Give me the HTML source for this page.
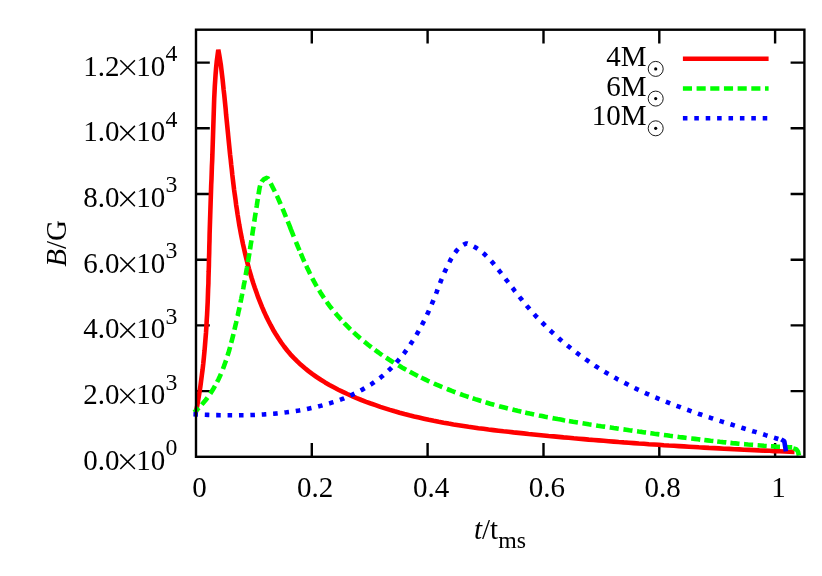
<!DOCTYPE html>
<html><head><meta charset="utf-8"><title>B/G vs t/tms</title>
<style>
html,body{margin:0;padding:0;background:#fff;}
svg{display:block;will-change:transform}
text{font-family:"Liberation Serif",serif;font-size:29px;fill:#000}
</style></head>
<body>
<svg width="822" height="576" viewBox="0 0 822 576">
<rect x="0" y="0" width="822" height="576" fill="#fff"/>
<!-- ticks -->
<path fill="none" stroke="#000" stroke-width="2.4" d="M311.8,456.8 V443.0 M311.8,29.7 V43.5 M427.6,456.8 V443.0 M427.6,29.7 V43.5 M543.5,456.8 V443.0 M543.5,29.7 V43.5 M659.3,456.8 V443.0 M659.3,29.7 V43.5 M775.1,456.8 V443.0 M775.1,29.7 V43.5 M196.0,391.1 H209.8 M804.4,391.1 H790.6 M196.0,325.4 H209.8 M804.4,325.4 H790.6 M196.0,259.7 H209.8 M804.4,259.7 H790.6 M196.0,194.0 H209.8 M804.4,194.0 H790.6 M196.0,128.3 H209.8 M804.4,128.3 H790.6 M196.0,62.6 H209.8 M804.4,62.6 H790.6"/>
<!-- curves -->
<g fill="none" stroke-width="4.6" stroke-linejoin="bevel" stroke-linecap="butt">
<path id="red" stroke="#ff0000" d="M196.0,412.0 L197.2,405.9 L198.2,399.9 L199.2,393.8 L200.2,387.7 L201.0,381.6 L201.8,375.5 L202.6,369.4 L203.3,363.3 L203.9,357.2 L204.5,351.1 L205.0,345.0 L205.5,338.8 L206.0,332.7 L206.4,326.6 L206.7,320.4 L207.1,314.3 L207.4,308.1 L207.7,302.0 L207.9,295.8 L208.1,289.7 L208.4,283.5 L208.5,277.3 L208.7,271.2 L208.9,265.0 L209.0,258.8 L209.2,252.7 L209.3,246.5 L209.5,240.4 L209.6,234.2 L209.8,228.0 L210.0,221.9 L210.2,215.7 L210.4,209.5 L210.6,203.4 L210.8,197.2 L211.0,191.1 L211.2,184.9 L211.5,178.8 L211.7,172.6 L211.9,166.5 L212.2,160.3 L212.4,154.2 L212.6,148.0 L212.8,141.9 L213.0,135.7 L213.2,129.5 L213.4,123.4 L213.6,117.2 L213.8,111.1 L214.0,104.9 L214.2,98.7 L214.5,92.6 L214.8,86.4 L215.2,80.3 L215.6,74.2 L216.1,68.0 L216.7,61.9 L217.5,55.8 L218.3,49.7 L219.2,54.6 L220.0,59.6 L220.8,64.6 L221.4,69.6 L222.0,74.6 L222.6,79.6 L223.1,84.6 L223.6,89.6 L224.2,94.6 L224.7,99.6 L225.2,104.6 L225.7,109.6 L226.1,114.6 L226.6,119.6 L227.1,124.6 L227.6,129.6 L228.1,134.6 L228.6,139.7 L229.1,144.7 L229.6,149.7 L230.1,154.7 L230.7,159.7 L231.2,164.7 L231.8,169.7 L232.3,174.7 L232.9,179.7 L233.5,184.7 L234.1,189.7 L234.8,194.7 L235.5,199.6 L236.1,204.6 L236.9,209.6 L237.6,214.5 L238.4,219.5 L239.2,224.5 L240.1,229.4 L241.0,234.3 L242.0,239.3 L243.0,244.2 L244.1,249.1 L245.2,254.0 L246.4,258.9 L247.6,263.7 L248.9,268.6 L250.3,273.4 L251.7,278.2 L253.2,283.0 L254.8,287.8 L256.5,292.6 L258.2,297.4 L260.1,302.1 L262.0,306.8 L264.0,311.5 L266.1,316.1 L268.4,320.7 L270.7,325.2 L273.1,329.7 L275.7,334.0 L278.4,338.3 L281.2,342.5 L284.1,346.5 L287.2,350.5 L290.4,354.3 L293.8,357.9 L297.3,361.4 L300.9,364.8 L304.7,368.0 L308.5,371.1 L312.5,374.1 L316.6,377.0 L320.8,379.7 L325.1,382.4 L329.4,384.9 L333.8,387.3 L338.3,389.7 L342.9,391.9 L347.4,394.0 L352.1,396.1 L356.7,398.1 L361.4,400.0 L366.1,401.8 L370.8,403.5 L375.6,405.2 L380.3,406.9 L385.1,408.4 L389.9,409.9 L394.7,411.3 L399.6,412.7 L404.4,414.0 L409.3,415.3 L414.1,416.5 L419.0,417.6 L423.9,418.7 L428.8,419.8 L433.7,420.8 L438.7,421.8 L443.6,422.7 L448.6,423.6 L453.5,424.4 L458.5,425.2 L463.5,426.0 L468.5,426.8 L473.5,427.5 L478.4,428.2 L483.4,428.8 L488.5,429.5 L493.5,430.1 L498.5,430.7 L503.5,431.3 L508.5,431.8 L513.5,432.4 L518.5,432.9 L523.5,433.4 L528.6,434.0 L533.6,434.5 L538.6,435.0 L543.6,435.5 L548.6,436.0 L553.6,436.4 L558.6,436.9 L563.6,437.4 L568.7,437.8 L573.7,438.3 L578.7,438.7 L583.7,439.1 L588.7,439.6 L593.7,440.0 L598.7,440.4 L603.7,440.8 L608.7,441.2 L613.7,441.6 L618.7,442.0 L623.8,442.4 L628.8,442.7 L633.8,443.1 L638.8,443.5 L643.8,443.8 L648.8,444.2 L653.8,444.5 L658.8,444.8 L663.8,445.2 L668.8,445.5 L673.9,445.8 L678.9,446.1 L683.9,446.4 L688.9,446.7 L693.9,447.0 L698.9,447.3 L704.0,447.6 L709.0,447.9 L714.0,448.1 L719.0,448.4 L724.0,448.7 L729.1,448.9 L734.1,449.2 L739.1,449.4 L744.1,449.7 L749.2,449.9 L754.2,450.1 L759.2,450.4 L764.3,450.6 L769.3,450.8 L774.3,451.1 L779.4,451.3 L784.4,451.5 L789.5,451.7 L794.5,451.9"/>
<path id="green" stroke="#00ff00" stroke-dasharray="6.50 4.28 9.12 4.81 9.12 4.27 9.12 5.26 9.12 4.91 9.12 4.26 9.12 4.30 9.12 4.93 9.12 4.75 9.12 4.38 9.12 5.21 9.12 4.15 9.12 3.93 9.12 4.72 9.12 4.95 9.12 4.88 9.12 4.48 9.12 4.01 9.12 4.80 9.12 4.79 9.12 4.81 9.12 4.73 16.27 5.78 9.12 3.45 9.12 4.38 9.12 4.78 9.12 4.68 9.12 4.59 9.12 5.14 9.12 4.12 9.12 4.21 9.12 5.03 9.12 4.37 9.12 4.47 9.12 5.26 9.12 4.12 9.12 3.66 9.12 4.87 9.12 5.03 9.12 4.93 9.12 4.19 9.12 4.42 9.12 4.92 9.12 4.68 9.12 4.02 9.12 4.84 9.12 4.81 12.80 3.86 9.12 4.66 9.12 4.64 9.12 4.63 9.12 4.72 9.12 4.61 9.12 4.31 9.12 4.60 9.12 4.60 9.12 4.69 9.12 4.07 9.12 3.86 9.12 4.15 9.12 4.54 9.12 4.53 9.12 4.21 9.12 4.20 9.12 1000.00" d="M194.3,412.4 L196.0,410.5 L198.6,408.0 L201.1,405.4 L203.4,402.7 L205.7,400.0 L207.8,397.2 L209.8,394.4 L211.7,391.5 L213.5,388.5 L215.2,385.5 L216.9,382.5 L218.4,379.4 L219.9,376.2 L221.3,373.1 L222.6,369.8 L223.8,366.6 L225.0,363.3 L226.2,360.0 L227.2,356.7 L228.3,353.3 L229.3,350.0 L230.2,346.6 L231.1,343.2 L232.0,339.8 L232.9,336.4 L233.7,332.9 L234.5,329.5 L235.3,326.1 L236.1,322.7 L236.9,319.2 L237.7,315.8 L238.4,312.3 L239.2,308.9 L239.9,305.5 L240.6,302.0 L241.3,298.6 L242.0,295.1 L242.6,291.7 L243.3,288.2 L243.9,284.8 L244.6,281.4 L245.2,277.9 L245.8,274.5 L246.4,271.0 L247.0,267.6 L247.6,264.1 L248.2,260.7 L248.7,257.3 L249.3,253.8 L249.8,250.4 L250.4,247.0 L250.9,243.5 L251.5,240.1 L252.0,236.7 L252.5,233.2 L253.0,229.8 L253.6,226.3 L254.1,222.9 L254.6,219.4 L255.1,216.0 L255.7,212.5 L256.2,209.0 L256.8,205.6 L257.3,202.1 L257.9,198.5 L258.4,195.0 L259.0,191.5 L259.6,187.9 L260.4,184.5 L261.8,181.5 L264.0,179.1 L267.4,177.6 L269.0,180.3 L270.5,183.0 L271.9,185.7 L273.3,188.5 L274.7,191.3 L276.1,194.1 L277.4,196.9 L278.7,199.8 L280.0,202.7 L281.2,205.6 L282.5,208.5 L283.7,211.4 L284.9,214.3 L286.1,217.3 L287.3,220.2 L288.5,223.2 L289.7,226.1 L290.8,229.1 L292.0,232.1 L293.2,235.1 L294.4,238.0 L295.6,241.0 L296.8,244.0 L298.0,246.9 L299.3,249.9 L300.5,252.9 L301.8,255.8 L303.0,258.7 L304.3,261.6 L305.7,264.6 L307.0,267.4 L308.4,270.3 L309.8,273.2 L311.2,276.0 L312.6,278.8 L314.1,281.6 L315.6,284.3 L317.2,287.1 L318.8,289.8 L320.4,292.4 L322.1,295.1 L323.8,297.7 L325.6,300.2 L327.4,302.8 L329.2,305.3 L331.1,307.8 L333.0,310.2 L335.0,312.6 L337.0,315.0 L339.0,317.3 L341.0,319.6 L343.2,321.9 L345.3,324.2 L347.5,326.4 L349.7,328.6 L351.9,330.7 L354.2,332.9 L356.5,335.0 L358.8,337.0 L361.2,339.1 L363.6,341.1 L366.0,343.0 L368.4,345.0 L370.9,346.9 L373.4,348.8 L375.9,350.7 L378.5,352.5 L381.0,354.3 L383.6,356.1 L386.3,357.8 L388.9,359.5 L391.6,361.2 L394.2,362.9 L397.0,364.5 L399.7,366.1 L402.4,367.7 L405.2,369.3 L408.0,370.8 L410.8,372.3 L413.6,373.8 L416.4,375.2 L419.2,376.6 L422.1,378.0 L425.0,379.4 L427.8,380.8 L430.7,382.1 L433.6,383.4 L436.5,384.7 L439.5,385.9 L442.4,387.1 L445.3,388.3 L448.3,389.5 L451.2,390.7 L454.2,391.8 L457.1,392.9 L460.1,394.0 L463.1,395.1 L466.1,396.1 L469.1,397.1 L472.1,398.1 L475.1,399.1 L478.1,400.0 L481.1,401.0 L484.1,401.9 L487.1,402.8 L490.1,403.7 L493.1,404.5 L496.2,405.4 L499.2,406.2 L502.3,407.0 L505.3,407.8 L508.3,408.6 L511.4,409.3 L514.5,410.1 L517.5,410.8 L520.6,411.5 L523.6,412.2 L526.7,412.9 L529.8,413.6 L532.9,414.2 L536.0,414.9 L539.0,415.5 L542.1,416.1 L545.2,416.8 L548.3,417.3 L551.4,417.9 L554.5,418.5 L557.6,419.1 L560.7,419.6 L563.8,420.2 L566.9,420.7 L570.0,421.2 L573.1,421.8 L576.2,422.3 L579.3,422.8 L582.5,423.3 L585.6,423.8 L588.7,424.3 L591.8,424.7 L594.9,425.2 L598.0,425.7 L601.2,426.2 L604.3,426.6 L607.4,427.1 L610.5,427.5 L613.7,428.0 L616.8,428.4 L619.9,428.9 L623.0,429.3 L626.2,429.7 L629.3,430.2 L632.4,430.6 L635.5,431.1 L638.6,431.5 L641.8,431.9 L644.9,432.4 L648.0,432.8 L651.1,433.2 L654.3,433.7 L657.4,434.1 L660.5,434.5 L663.6,434.9 L666.7,435.3 L669.9,435.8 L673.0,436.2 L676.1,436.6 L679.2,437.0 L682.4,437.4 L685.5,437.8 L688.6,438.2 L691.7,438.5 L694.9,438.9 L698.0,439.3 L701.1,439.7 L704.2,440.0 L707.4,440.4 L710.5,440.8 L713.6,441.1 L716.8,441.4 L719.9,441.8 L723.0,442.1 L726.2,442.4 L729.3,442.8 L732.4,443.1 L735.6,443.4 L738.7,443.7 L741.8,444.0 L745.0,444.2 L748.1,444.5 L751.3,444.8 L754.4,445.0 L757.5,445.3 L760.7,445.5 L763.8,445.8 L767.0,446.0 L770.1,446.2 L773.3,446.4 L776.4,446.6 L779.6,446.8 L782.7,446.9 L785.9,447.1 L789.0,447.3 L792.2,447.4"/>
<path id="blue" stroke="#0000ff" stroke-dasharray="4.56 6.84" d="M193.4,414.3 L196.3,414.4 L199.2,414.5 L202.2,414.7 L205.2,414.8 L208.2,414.9 L211.2,415.0 L214.2,415.1 L217.3,415.1 L220.3,415.2 L223.4,415.2 L226.5,415.3 L229.6,415.3 L232.7,415.3 L235.8,415.3 L239.0,415.3 L242.1,415.2 L245.3,415.2 L248.4,415.1 L251.6,415.0 L254.8,414.9 L257.9,414.7 L261.1,414.6 L264.3,414.4 L267.4,414.2 L270.6,413.9 L273.8,413.7 L277.0,413.4 L280.1,413.0 L283.3,412.7 L286.5,412.3 L289.6,411.9 L292.7,411.5 L295.9,411.0 L299.0,410.5 L302.1,409.9 L305.2,409.4 L308.3,408.7 L311.4,408.1 L314.4,407.4 L317.5,406.7 L320.5,405.9 L323.5,405.1 L326.5,404.3 L329.5,403.4 L332.4,402.4 L335.4,401.5 L338.3,400.4 L341.1,399.4 L344.0,398.3 L346.8,397.1 L349.6,395.9 L352.4,394.6 L355.1,393.3 L357.9,392.0 L360.5,390.5 L363.2,389.1 L365.8,387.6 L368.4,386.0 L371.0,384.4 L373.5,382.7 L375.9,380.9 L378.4,379.1 L380.8,377.3 L383.1,375.4 L385.4,373.4 L387.7,371.3 L390.0,369.2 L392.1,367.1 L394.3,364.8 L396.4,362.6 L398.4,360.2 L400.5,357.8 L402.4,355.4 L404.4,352.9 L406.2,350.4 L408.1,347.8 L409.9,345.2 L411.6,342.5 L413.4,339.9 L415.0,337.2 L416.7,334.4 L418.3,331.7 L419.8,328.9 L421.4,326.1 L422.8,323.3 L424.3,320.4 L425.7,317.6 L427.0,314.7 L428.4,311.9 L429.7,309.0 L430.9,306.2 L432.1,303.3 L433.3,300.5 L434.4,297.6 L435.6,294.8 L436.7,292.0 L437.7,289.1 L438.8,286.3 L439.9,283.5 L441.0,280.7 L442.2,277.9 L443.3,275.1 L444.5,272.3 L445.8,269.5 L447.1,266.7 L448.5,263.9 L449.9,261.2 L451.4,258.4 L453.1,255.6 L454.8,253.0 L456.7,250.5 L458.8,248.2 L461.1,246.2 L463.7,244.6 L466.5,243.3 L469.0,244.2 L471.4,245.3 L473.8,246.5 L476.0,247.8 L478.2,249.2 L480.3,250.7 L482.3,252.3 L484.3,254.0 L486.2,255.8 L488.1,257.6 L489.9,259.6 L491.7,261.5 L493.4,263.5 L495.1,265.6 L496.8,267.7 L498.5,269.8 L500.1,271.9 L501.8,274.0 L503.4,276.1 L505.1,278.3 L506.7,280.4 L508.4,282.5 L510.0,284.7 L511.6,286.8 L513.3,288.9 L514.9,291.1 L516.6,293.2 L518.3,295.3 L519.9,297.4 L521.6,299.5 L523.3,301.6 L525.0,303.7 L526.7,305.7 L528.5,307.8 L530.2,309.8 L532.0,311.8 L533.8,313.8 L535.6,315.8 L537.5,317.7 L539.3,319.7 L541.2,321.6 L543.1,323.5 L545.0,325.4 L546.9,327.3 L548.8,329.2 L550.8,331.0 L552.7,332.8 L554.7,334.6 L556.7,336.4 L558.7,338.2 L560.7,340.0 L562.8,341.7 L564.8,343.4 L566.9,345.1 L569.0,346.8 L571.1,348.5 L573.2,350.1 L575.3,351.8 L577.5,353.4 L579.6,355.0 L581.8,356.6 L583.9,358.1 L586.1,359.7 L588.3,361.2 L590.5,362.7 L592.8,364.2 L595.0,365.7 L597.2,367.1 L599.5,368.6 L601.8,370.0 L604.0,371.4 L606.3,372.8 L608.6,374.1 L610.9,375.5 L613.3,376.8 L615.6,378.1 L617.9,379.4 L620.3,380.6 L622.6,381.9 L625.0,383.1 L627.4,384.3 L629.7,385.6 L632.1,386.7 L634.5,387.9 L636.9,389.1 L639.4,390.2 L641.8,391.3 L644.2,392.5 L646.6,393.6 L649.1,394.6 L651.5,395.7 L654.0,396.8 L656.5,397.8 L658.9,398.9 L661.4,399.9 L663.9,400.9 L666.4,401.9 L668.9,402.9 L671.4,403.9 L673.9,404.8 L676.4,405.8 L678.9,406.7 L681.4,407.7 L683.9,408.6 L686.4,409.5 L689.0,410.4 L691.5,411.3 L694.0,412.2 L696.6,413.1 L699.1,414.0 L701.7,414.8 L704.2,415.7 L706.7,416.6 L709.3,417.4 L711.9,418.3 L714.4,419.1 L717.0,419.9 L719.5,420.8 L722.1,421.6 L724.6,422.4 L727.2,423.2 L729.8,424.0 L732.3,424.8 L734.9,425.6 L737.5,426.4 L740.0,427.2 L742.6,428.0 L745.1,428.8 L747.7,429.6 L750.3,430.4 L752.8,431.2 L755.4,431.9 L757.9,432.7 L760.5,433.5 L763.1,434.3 L765.6,435.1 L768.2,435.9 L770.7,436.7 L773.2,437.4 L775.8,438.2 L778.3,439.0"/>
<path stroke="#00ff00" d="M793.3,448.4 L796.2,449.2 L798.0,451.6 L798.9,455.6"/>
<path stroke="#0000ff" d="M781.3,439.4 L784.3,441.2 L785.9,451.4"/>
<path stroke="#ff0000" d="M682.9,58.7 H768.6"/>
<path stroke="#00ff00" stroke-dasharray="9.12 4.56" d="M682.9,88.5 H768.6"/>
<path stroke="#0000ff" stroke-dasharray="4.56 6.84" d="M682.9,118.2 H768.6"/>
</g>
<!-- frame -->
<g fill="none" stroke="#000" stroke-width="2.4" stroke-linecap="butt" stroke-linejoin="miter">
<rect x="196.0" y="29.7" width="608.4" height="427.1"/>
</g>
<!-- labels -->
<g>
<text x="83.3" y="469.7">0.0</text><path d="M120.3,469.0 l14.6,-14.6 m-14.6,0 l14.6,14.6" stroke="#000" stroke-width="1.5" fill="none"/><text x="136.3" y="469.7">10</text><text x="165.6" y="455.2" style="font-size:23.8px">0</text><text x="83.3" y="404.0">2.0</text><path d="M120.3,403.3 l14.6,-14.6 m-14.6,0 l14.6,14.6" stroke="#000" stroke-width="1.5" fill="none"/><text x="136.3" y="404.0">10</text><text x="165.6" y="389.5" style="font-size:23.8px">3</text><text x="83.3" y="338.3">4.0</text><path d="M120.3,337.6 l14.6,-14.6 m-14.6,0 l14.6,14.6" stroke="#000" stroke-width="1.5" fill="none"/><text x="136.3" y="338.3">10</text><text x="165.6" y="323.8" style="font-size:23.8px">3</text><text x="83.3" y="272.6">6.0</text><path d="M120.3,271.9 l14.6,-14.6 m-14.6,0 l14.6,14.6" stroke="#000" stroke-width="1.5" fill="none"/><text x="136.3" y="272.6">10</text><text x="165.6" y="258.1" style="font-size:23.8px">3</text><text x="83.3" y="206.9">8.0</text><path d="M120.3,206.2 l14.6,-14.6 m-14.6,0 l14.6,14.6" stroke="#000" stroke-width="1.5" fill="none"/><text x="136.3" y="206.9">10</text><text x="165.6" y="192.4" style="font-size:23.8px">3</text><text x="83.3" y="141.2">1.0</text><path d="M120.3,140.5 l14.6,-14.6 m-14.6,0 l14.6,14.6" stroke="#000" stroke-width="1.5" fill="none"/><text x="136.3" y="141.2">10</text><text x="165.6" y="126.7" style="font-size:23.8px">4</text><text x="83.3" y="75.5">1.2</text><path d="M120.3,74.8 l14.6,-14.6 m-14.6,0 l14.6,14.6" stroke="#000" stroke-width="1.5" fill="none"/><text x="136.3" y="75.5">10</text><text x="165.6" y="61.0" style="font-size:23.8px">4</text>
<text x="199.4" y="496.9" text-anchor="middle">0</text><text x="315.2" y="496.9" text-anchor="middle">0.2</text><text x="431.0" y="496.9" text-anchor="middle">0.4</text><text x="546.9" y="496.9" text-anchor="middle">0.6</text><text x="662.7" y="496.9" text-anchor="middle">0.8</text><text x="778.5" y="496.9" text-anchor="middle">1</text>
<text x="646.6" y="65.9" text-anchor="end">4M</text><circle cx="655.7" cy="68.9" r="7.5" fill="none" stroke="#000" stroke-width="0.9"/><circle cx="655.7" cy="68.9" r="1.6" fill="#000"/>
<text x="646.6" y="95.6" text-anchor="end">6M</text><circle cx="655.7" cy="98.6" r="7.5" fill="none" stroke="#000" stroke-width="0.9"/><circle cx="655.7" cy="98.6" r="1.6" fill="#000"/>
<text x="646.6" y="125.3" text-anchor="end">10M</text><circle cx="655.7" cy="128.3" r="7.5" fill="none" stroke="#000" stroke-width="0.9"/><circle cx="655.7" cy="128.3" r="1.6" fill="#000"/>
<text transform="translate(66.3,243.4) rotate(-90)" text-anchor="middle"><tspan font-style="italic">B</tspan>/G</text>
<text x="474.0" y="539.0"><tspan font-style="italic">t</tspan>/t<tspan dy="8.9" font-size="23.8">ms</tspan></text>
</g>
</svg>
</body></html>
